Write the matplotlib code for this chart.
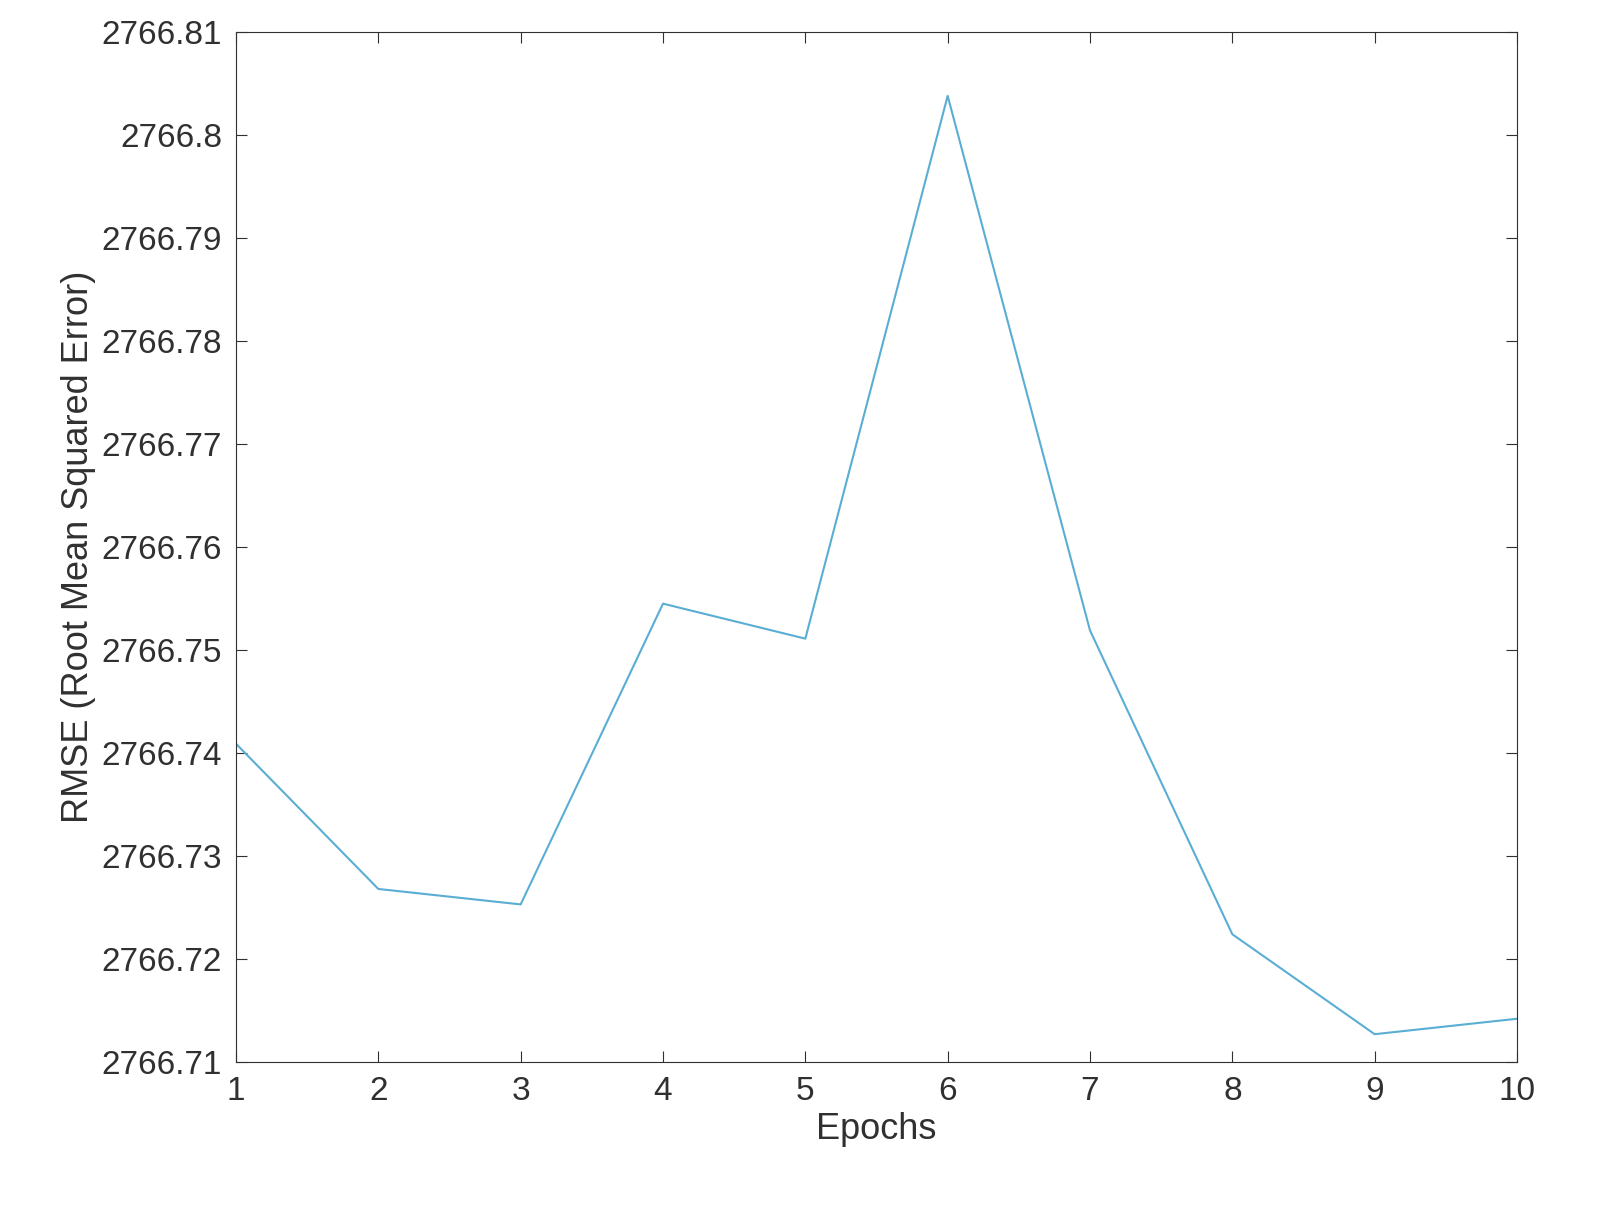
import matplotlib
matplotlib.use('Agg')
import matplotlib.pyplot as plt

plt.rcParams['font.family'] = ['Liberation Sans', 'DejaVu Sans']

epochs = [1, 2, 3, 4, 5, 6, 7, 8, 9, 10]
rmse = [2766.7409, 2766.7268, 2766.7253, 2766.7545, 2766.7511,
        2766.8038, 2766.7519, 2766.7224, 2766.7127, 2766.7142]
yticks = [2766.71, 2766.72, 2766.73, 2766.74, 2766.75,
          2766.76, 2766.77, 2766.78, 2766.79, 2766.80, 2766.81]
ylabels = ['2766.71', '2766.72', '2766.73', '2766.74', '2766.75',
           '2766.76', '2766.77', '2766.78', '2766.79', '2766.8', '2766.81']

fig = plt.figure(figsize=(16.01, 12.28), dpi=100)
ax = fig.add_axes([236/1601, 1-1062/1228, (1517-236)/1601, (1062-32)/1228])
ax.plot(epochs, rmse, color='#5aaed4', lw=1.5)
ax.set_xlim(1, 10)
ax.set_ylim(2766.71, 2766.81)
ax.set_xticks(epochs)
ax.set_yticks(yticks)
ax.set_yticklabels(ylabels)
ax.tick_params(direction='in', top=True, right=True, labelsize=24,
               colors='#303030', length=8, pad=10)
for s in ax.spines.values():
    s.set_color('#303030')
ax.set_xlabel('Epochs', fontsize=26, color='#303030')
ax.set_ylabel('RMSE (Root Mean Squared Error)', fontsize=26, color='#303030')
fig.savefig('out.png', dpi=100)
